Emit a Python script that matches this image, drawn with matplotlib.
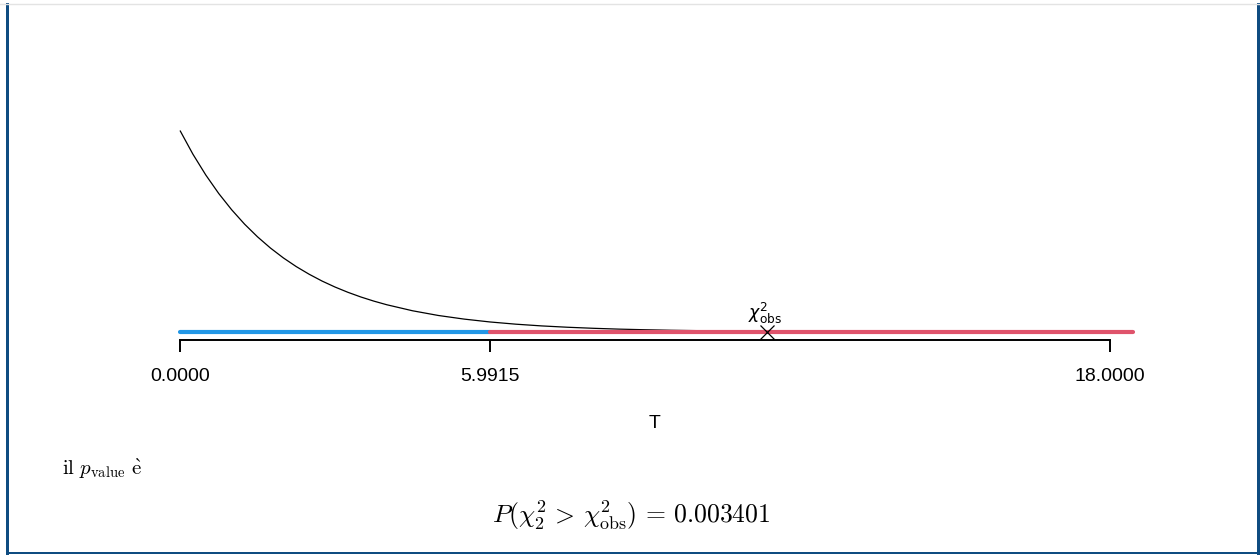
import matplotlib
matplotlib.use("Agg")
import matplotlib.pyplot as plt
from matplotlib.patches import Rectangle
from matplotlib.lines import Line2D

# ---- data ----
dens_x = [0, 0.25, 0.5, 0.75, 1, 1.25, 1.5, 1.75, 2, 2.25, 2.5, 2.75, 3, 3.25, 3.5, 3.75,
          4, 4.5, 5, 5.5, 6, 6.5, 7, 7.5, 8, 8.5, 9, 9.5, 10, 11, 12, 13, 14, 15, 16, 17, 18]
dens_y = [0.5, 0.4412, 0.3894, 0.3436, 0.3033, 0.2676, 0.2362, 0.2084, 0.1839, 0.1623,
          0.1433, 0.1264, 0.1116, 0.0985, 0.0869, 0.0767, 0.0677, 0.0527, 0.0410, 0.0320,
          0.0249, 0.0194, 0.0151, 0.0118, 0.0092, 0.0071, 0.0056, 0.0043, 0.0034, 0.0020,
          0.0012, 0.0008, 0.0005, 0.0003, 0.0002, 0.0001, 0.0001]
accept_region = [0.0, 5.9915]
reject_region = [5.9915, 18.45]
chi_obs = 11.367
tick_values = [0.0, 5.9915, 18.0]
tick_labels = ["0.0000", "5.9915", "18.0000"]
p_value = 0.003401
df = 2

W, H = 1260, 555
fig = plt.figure(figsize=(W / 100, H / 100), dpi=100)
ax = fig.add_axes([0, 0, 1, 1])
ax.set_facecolor("none")

px_per_x = (1110 - 180) / 18.0
px_per_y = 403.0
base_px = 332.0
ax.set_xlim(-180 / px_per_x, (W - 180) / px_per_x)
ax.set_ylim(-(H - base_px) / px_per_y, base_px / px_per_y)

blue = "#2297E6"
red = "#DF536B"

ax.plot(dens_x, dens_y, color="black", lw=0.9, solid_capstyle="butt", zorder=2)
ax.plot(accept_region, [0, 0], color=blue, lw=3.0, solid_capstyle="round", zorder=3)
ax.plot(reject_region, [0, 0], color=red, lw=3.0, solid_capstyle="round", zorder=3)
ax.plot([chi_obs], [0], marker="x", color="black", ms=9.5, mew=0.9, ls="none", zorder=4)
ax.text(chi_obs - 0.05, 0.014, r"$\chi^2_{\mathrm{obs}}$", ha="center", va="bottom",
        fontsize=12.5, math_fontfamily="dejavusans", color="black", zorder=5)

# axis like R's axis()
for s in ["top", "right", "left"]:
    ax.spines[s].set_visible(False)
ax.spines["bottom"].set_position(("data", -7.5 / px_per_y))
ax.spines["bottom"].set_bounds(tick_values[0], tick_values[-1])
ax.spines["bottom"].set_linewidth(1.4)
ax.set_yticks([])
ax.set_xticks(tick_values)
ax.set_xticklabels(tick_labels, fontsize=14, fontfamily="Liberation Sans")
ax.tick_params(axis="x", direction="out", length=8.6, width=1.4, pad=12)

fig.text(655 / W, 1 - 423 / H, "T", ha="center", va="center", fontsize=14,
         fontfamily="Liberation Sans")

fig.text(62 / W, 1 - 475 / H, r"$\mathrm{il}\ p_{\mathrm{value}}\ \mathrm{\grave{e}}$",
         ha="left", va="baseline", fontsize=15, math_fontfamily="cm")
fig.text(631 / W, 1 - 523 / H,
         r"$P(\chi^2_{%d}\,>\,\chi^2_{\mathrm{obs}})\,=\,%.6f$" % (df, p_value),
         ha="center", va="baseline", fontsize=18.5, math_fontfamily="cm")

# page frame
fig.add_artist(Line2D([0, 1], [1 - 3.5 / H, 1 - 3.5 / H], color="#e3e3e3", lw=1.0))
fig.add_artist(Rectangle((5.5 / W, 0), 3 / W, 1 - 3 / H, color="#0f4c81", lw=0))
fig.add_artist(Rectangle((1257 / W, 0), 3 / W, 1 - 3 / H, color="#0f4c81", lw=0))
fig.add_artist(Rectangle((5.5 / W, 1.0 / H), (1257 - 5.5) / W, 1.6 / H, color="#0f4c81", lw=0))

fig.savefig("out.png", dpi=100)
